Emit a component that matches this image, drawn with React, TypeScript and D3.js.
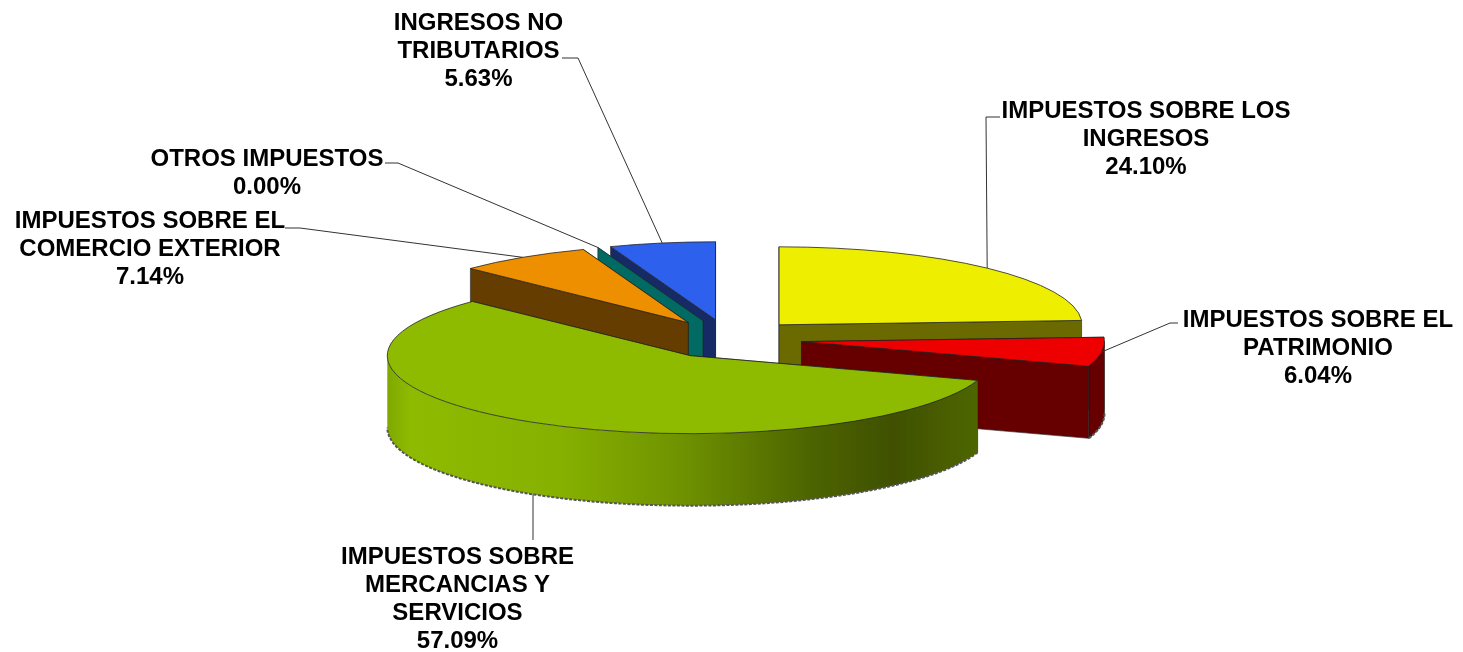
import React, { useRef, useEffect } from 'react'
import * as d3 from 'd3'

const WIDTH = 1463
const HEIGHT = 652

// chart values
const categories = [
    ['IMPUESTOS SOBRE LOS', 'INGRESOS'],
    ['IMPUESTOS SOBRE EL', 'PATRIMONIO'],
    ['IMPUESTOS SOBRE', 'MERCANCIAS Y', 'SERVICIOS'],
    ['IMPUESTOS SOBRE EL', 'COMERCIO EXTERIOR'],
    ['OTROS IMPUESTOS'],
    ['INGRESOS NO', 'TRIBUTARIOS'],
]
const values = [24.1, 6.04, 57.09, 7.14, 0.0, 5.63]

// colours
const topColors = ['#eeee00', '#ee0000', '#8ebb00', '#ee8f00', '#006b6b', '#2e60ee']
const wallColors = ['#6b6b00', '#660000', '#3f5000', '#663d00', '#006b64', '#142c66']

// label layout: centre x, first baseline, elbow of the leader line
const labelX = [1146, 1318, 457.5, 150, 267, 478.5]
const labelY = [118, 327, 564, 228, 166, 30]
const elbows: [number, number][][] = [
    [[1000, 117], [986, 117]],
    [[1178, 323], [1170, 323]],
    [[533, 540]],
    [[285, 228], [300, 228]],
    [[385, 163], [398, 163]],
    [[562, 58], [578, 58]],
]

// pie geometry
const cx = 728.5
const cy = 339
const rx = 303
const ry = 78
const depth = 72
const explodeX = 0.243
const explodeY = 0.25
const drawOrder = [0, 5, 4, 3, 1, 2]

const App = () => {
    const svgRef = useRef<SVGSVGElement>(null)

    useEffect(() => {
        const svg = d3.select(svgRef.current)
        svg.selectAll('*').remove()

        const pie = d3.pie<number>().sort(null).startAngle(0).endAngle(2 * Math.PI)
        const slices = pie(values)

        const defs = svg.append('defs')
        const grad = defs.append('linearGradient')
            .attr('id', 'greenWall')
            .attr('gradientUnits', 'userSpaceOnUse')
            .attr('x1', 387).attr('x2', 976).attr('y1', 0).attr('y2', 0)
        const stops: [number, string][] = [
            [0, '#7fa800'], [0.04, '#8ebb00'], [0.3, '#86b000'], [0.5, '#6f9200'],
            [0.72, '#4d6400'], [0.86, '#3f5000'], [1, '#4f6600'],
        ]
        stops.forEach(([o, c]) => grad.append('stop').attr('offset', o).attr('stop-color', c))
        defs.append('filter').attr('id', 'soft')
            .attr('filterUnits', 'userSpaceOnUse')
            .attr('x', 0).attr('y', 0)
            .attr('width', WIDTH).attr('height', HEIGHT)
            .append('feGaussianBlur').attr('stdDeviation', 0.4)

        const arc = d3.arc<d3.PieArcDatum<number>>().innerRadius(0).outerRadius(rx)
        const line = d3.line()
        const g = svg.append('g').attr('filter', 'url(#soft)')

        const center = (i: number): [number, number] => {
            const mid = (slices[i].startAngle + slices[i].endAngle) / 2
            return [cx + explodeX * rx * Math.sin(mid), cy - explodeY * ry * Math.cos(mid)]
        }
        const onRim = (c: [number, number], a: number, dz = 0): [number, number] => [
            c[0] + rx * Math.sin(a),
            c[1] - ry * Math.cos(a) + dz,
        ]

        drawOrder.forEach((i) => {
            const s = slices[i]
            const c = center(i)
            const group = g.append('g')

            // cut faces, the one further back first
            const cuts = [s.startAngle, s.endAngle].sort(
                (a, b) => onRim(c, a)[1] - onRim(c, b)[1]
            )
            cuts.forEach((a) => {
                group.append('path')
                    .attr('d', line([
                        c, onRim(c, a), onRim(c, a, depth), [c[0], c[1] + depth],
                    ]) + 'Z')
                    .attr('fill', wallColors[i])
                    .attr('stroke', '#222')
                    .attr('stroke-width', 0.6)
            })

            // outer wall, only the part facing the viewer
            const a0 = Math.max(s.startAngle, Math.PI / 2)
            const a1 = Math.min(s.endAngle, (3 * Math.PI) / 2)
            if (a1 > a0) {
                const angles = d3.range(0, 81).map((k) => a0 + ((a1 - a0) * k) / 80)
                const upper = angles.map((a) => onRim(c, a))
                const lower = angles.map((a) => onRim(c, a, depth))
                group.append('path')
                    .attr('d', line([...upper, ...lower.reverse()]) + 'Z')
                    .attr('fill', i === 2 ? 'url(#greenWall)' : wallColors[i])
                    .attr('stroke', i === 2 ? 'none' : '#222')
                    .attr('stroke-width', 0.6)
                group.append('path')
                    .attr('d', line(angles.map((a) => onRim(c, a, depth))))
                    .attr('fill', 'none')
                    .attr('stroke', '#555')
                    .attr('stroke-width', 2)
                    .attr('stroke-dasharray', '3 1.5')
            }

            // top face
            group.append('path')
                .attr('d', arc(s))
                .attr('transform', `translate(${c[0]},${c[1]}) scale(1,${ry / rx})`)
                .attr('fill', topColors[i])
                .attr('stroke', i === 4 ? 'none' : '#222')
                .attr('stroke-width', 0.8)
                .attr('vector-effect', 'non-scaling-stroke')
        })

        // leader lines run from the rim at the middle of each slice
        slices.forEach((s, i) => {
            const mid = (s.startAngle + s.endAngle) / 2
            const start = onRim(center(i), mid, i === 2 ? depth : 0)
            svg.append('path')
                .attr('d', line([start, ...[...elbows[i]].reverse()]))
                .attr('fill', 'none')
                .attr('stroke', '#333')
                .attr('stroke-width', 1)
        })

        // labels
        const fmt = d3.format('.2f')
        slices.forEach((s, i) => {
            const text = svg.append('text')
                .attr('text-anchor', 'middle')
                .attr('font-family', '"Liberation Sans", Arial, sans-serif')
                .attr('font-weight', 'bold')
                .attr('font-size', 24)
                .attr('fill', '#000')
            const lines = [...categories[i], `${fmt(values[i])}%`]
            lines.forEach((t, k) => {
                text.append('tspan')
                    .attr('x', labelX[i])
                    .attr('y', labelY[i] + k * 28)
                    .text(t)
            })
        })
    }, [])

    return (
        <svg
            ref={svgRef}
            width={WIDTH}
            height={HEIGHT}
            style={{ position: 'absolute', left: 0, top: 0, background: '#fff' }}
        />
    )
}

export default App
